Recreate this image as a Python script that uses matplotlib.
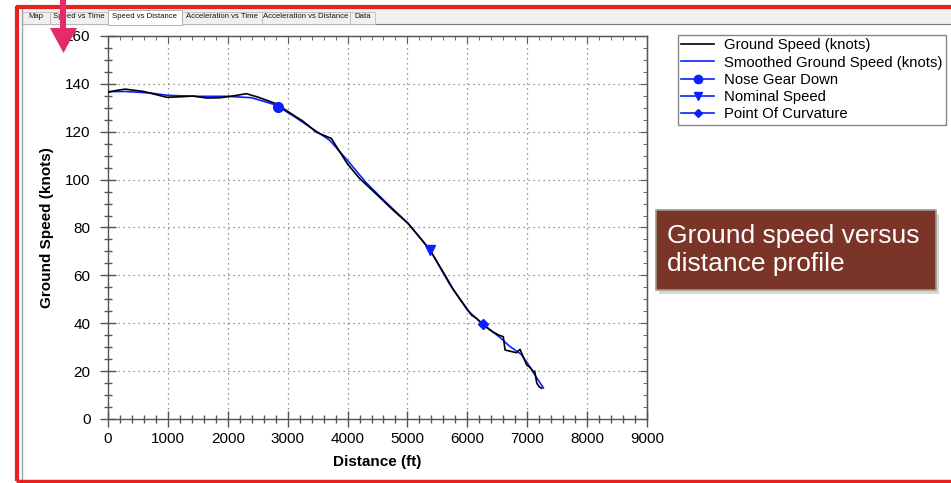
import matplotlib
matplotlib.use("Agg")
import matplotlib.pyplot as plt
from matplotlib.patches import Rectangle, Polygon
from matplotlib.lines import Line2D
from matplotlib.ticker import MultipleLocator

plt.rcParams['font.family'] = ['Liberation Sans', 'DejaVu Sans']

# ---------------- data ----------------
gs_dist = [0, 150, 290, 600, 980, 1200, 1420, 1650, 1870, 2100, 2310, 2500, 2820,
           3000, 3250, 3480, 3730, 3850, 4000, 4200, 4500, 4750, 5010, 5200, 5375,
           5625, 5770, 5930, 6070, 6155, 6270, 6420, 6520, 6600, 6630, 6820, 6880,
           6990, 7050, 7100, 7125, 7160, 7200, 7240]
gs_speed = [136.5, 137.3, 137.8, 136.8, 134.4, 134.6, 134.9, 134.1, 134.2, 135.0, 135.9,
            134.5, 131.6, 128.5, 124.5, 119.8, 117.2, 112.4, 106.5, 100.5, 93.5, 87.5,
            81.7, 76.0, 70.6, 60.2, 53.9, 48.3, 43.4, 42.0, 39.3, 36.5, 35.1, 34.4,
            28.8, 27.7, 29.1, 22.6, 21.5, 19.8, 20.0, 14.9, 13.5, 12.8]

sm_dist = [0, 300, 700, 1000, 1500, 2000, 2400, 2800, 3100, 3400, 3700, 4000, 4300,
           4600, 5000, 5375, 5700, 6000, 6270, 6550, 6700, 6900, 7000, 7150, 7270]
sm_speed = [136.8, 136.8, 136.2, 135.2, 134.8, 134.8, 134.2, 131.2, 126.5, 121.5, 116.5,
            108.0, 99.0, 91.5, 82.0, 70.8, 56.5, 45.5, 39.3, 34.0, 30.5, 27.0, 23.5,
            17.5, 13.0]

nose_gear = (2840, 130.5)
nominal_speed = (5375, 70.5)
point_curv = (6265, 39.5)

x_ticks = [0, 1000, 2000, 3000, 4000, 5000, 6000, 7000, 8000, 9000]
y_ticks = [0, 20, 40, 60, 80, 100, 120, 140, 160]
tab_labels = ["Map", "Speed vs Time", "Speed vs Distance", "Acceleration vs Time",
              "Acceleration vs Distance", "Data"]

# ---------------- figure ----------------
W, H = 951, 483
fig = plt.figure(figsize=(W / 100, H / 100), dpi=100)
fig.patch.set_facecolor('white')

def fx(px):
    return px / W

def fy(py):
    return 1 - py / H

ax = fig.add_axes([fx(108), fy(419), fx(647) - fx(108), fy(36) - fy(419)])
blue = '#0b1fff'
ax.plot(sm_dist, sm_speed, color=blue, lw=1.2, zorder=2)
ax.plot(gs_dist, gs_speed, color='black', lw=1.2, zorder=3)
ax.plot(*nose_gear, marker='o', color=blue, ms=7, zorder=4)
ax.plot(*nominal_speed, marker='v', color=blue, ms=7, zorder=4)
ax.plot(*point_curv, marker='D', color=blue, ms=5, zorder=4)

ax.set_xlim(0, 9000)
ax.set_ylim(0, 160)
ax.set_xticks(x_ticks)
ax.set_yticks(y_ticks)
ax.xaxis.set_minor_locator(MultipleLocator(200))
ax.yaxis.set_minor_locator(MultipleLocator(5))
ax.grid(True, which='major', linestyle=(0, (1, 3)), color='#777777', lw=0.9)
spine_c = '#555555'
for s in ax.spines.values():
    s.set_color(spine_c)
    s.set_linewidth(1.0)
ax.tick_params(which='major', direction='inout', length=11, width=1, color=spine_c,
               labelsize=11, pad=4)
ax.tick_params(which='minor', direction='inout', length=6, width=1, color=spine_c)
ax.tick_params(axis='y', which='major', pad=7)

secx = ax.secondary_xaxis('top')
secx.set_xticks(x_ticks)
secx.xaxis.set_minor_locator(MultipleLocator(200))
secx.tick_params(which='major', direction='in', length=5, color=spine_c, labeltop=False)
secx.tick_params(which='minor', direction='in', length=3, color=spine_c)
secx.spines['top'].set_color(spine_c)
secy = ax.secondary_yaxis('right')
secy.set_yticks(y_ticks)
secy.yaxis.set_minor_locator(MultipleLocator(5))
secy.tick_params(which='major', direction='in', length=5, color=spine_c, labelright=False)
secy.tick_params(which='minor', direction='in', length=3, color=spine_c)
secy.spines['right'].set_color(spine_c)

ax.set_xlabel('Distance (ft)', fontsize=11, fontweight='bold', labelpad=6)
ax.set_ylabel('Ground Speed (knots)', fontsize=11, fontweight='bold', labelpad=8)

handles = [
    Line2D([], [], color='black', lw=1.2),
    Line2D([], [], color=blue, lw=1.2),
    Line2D([], [], color=blue, lw=1.2, marker='o', ms=6),
    Line2D([], [], color=blue, lw=1.2, marker='v', ms=6),
    Line2D([], [], color=blue, lw=1.2, marker='D', ms=4),
]
labels = ['Ground Speed (knots)', 'Smoothed Ground Speed (knots)', 'Nose Gear Down',
          'Nominal Speed', 'Point Of Curvature']
leg = fig.legend(handles, labels, loc='upper left', bbox_to_anchor=(fx(678), fy(35)),
                 fontsize=10.7, frameon=True, fancybox=False, handlelength=2.2,
                 labelspacing=0.22, borderpad=0.22, handletextpad=0.7,
                 borderaxespad=0)
leg.get_frame().set_edgecolor('#666666')
leg.get_frame().set_linewidth(1.0)

# ---------------- overlay decorations ----------------
ov = fig.add_axes([0, 0, 1, 1], zorder=10)
ov.set_xlim(0, W)
ov.set_ylim(H, 0)
ov.axis('off')
ov.patch.set_visible(False)

# tab bar
ov.add_patch(Rectangle((22, 9), 940, 15, facecolor='#f0f0f0', edgecolor='none'))
ov.plot([22, 951], [24, 24], color='#777777', lw=0.8)
tab_edges = [22, 50, 108, 182, 262, 350, 375]
for i, lab in enumerate(tab_labels):
    x0, x1 = tab_edges[i], tab_edges[i + 1]
    if i == 2:
        ov.add_patch(Rectangle((x0, 10), x1 - x0, 14.5, facecolor='white',
                               edgecolor='#aaaaaa', lw=0.6, zorder=3))
    else:
        ov.add_patch(Rectangle((x0, 12), x1 - x0, 12, facecolor='#f0f0f0',
                               edgecolor='#bbbbbb', lw=0.6, zorder=2))
    ov.text((x0 + x1) / 2, 17 if i != 2 else 16, lab, fontsize=5.6, ha='center',
            va='center', color='#111111', zorder=4)
ov.plot([22, 22], [9, 481], color='#a0a0a0', lw=1.0)

# red frame
ov.plot([17, 17], [6, 481], color='#e8201f', lw=3.0, solid_capstyle='butt')
ov.plot([15.5, 951], [6.5, 6.5], color='#e8201f', lw=3.0, solid_capstyle='butt')
ov.plot([15.5, 951], [481, 481], color='#e8201f', lw=2.5, solid_capstyle='butt')

# pink arrow
pink = '#e52a6b'
ov.add_patch(Rectangle((60, 0), 6, 29, facecolor=pink, edgecolor='none', zorder=5))
ov.add_patch(Polygon([(50, 28), (77, 28), (63.5, 53)], closed=True,
                     facecolor=pink, edgecolor='none', zorder=5))

# annotation box
ov.add_patch(Rectangle((659, 214), 280, 80, facecolor='#bbbbbb', edgecolor='none',
                       alpha=0.6, zorder=5))
ov.add_patch(Rectangle((656, 210), 280, 80, facecolor='#7a3528', edgecolor='#9c9c8c',
                       lw=1.2, zorder=6))
ov.text(667, 236, 'Ground speed versus', fontsize=19, color='white', va='center',
        ha='left', zorder=7)
ov.text(667, 264, 'distance profile', fontsize=19, color='white', va='center',
        ha='left', zorder=7)

fig.savefig('out.png', dpi=100)
